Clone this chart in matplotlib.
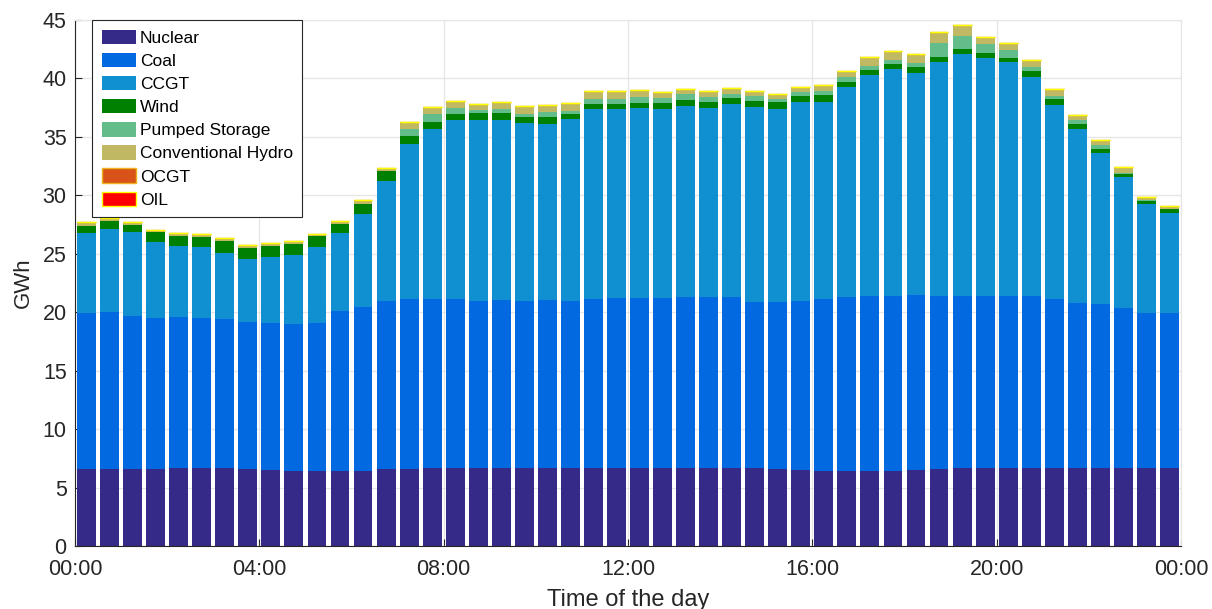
import numpy as np
import matplotlib.pyplot as plt

plt.rcParams["font.family"] = ["Liberation Sans", "DejaVu Sans"]

# half-hourly generation mix (GWh per settlement period)
nuclear = [6.60, 6.60, 6.60, 6.60, 6.67, 6.67, 6.67, 6.60, 6.53, 6.45, 6.45, 6.43,
           6.45, 6.60, 6.60, 6.67, 6.67, 6.67, 6.67, 6.67, 6.67, 6.67, 6.67, 6.67,
           6.67, 6.67, 6.67, 6.67, 6.67, 6.67, 6.60, 6.53, 6.45, 6.45, 6.45, 6.45,
           6.53, 6.60, 6.67, 6.67, 6.67, 6.67, 6.67, 6.67, 6.67, 6.67, 6.67, 6.67]
coal = [13.30, 13.40, 13.10, 12.95, 12.93, 12.88, 12.78, 12.60, 12.57, 12.55, 12.65, 13.72,
        14.00, 14.35, 14.55, 14.48, 14.43, 14.33, 14.38, 14.33, 14.38, 14.33, 14.48, 14.53,
        14.53, 14.53, 14.63, 14.63, 14.63, 14.18, 14.25, 14.42, 14.65, 14.85, 14.90, 14.95,
        14.92, 14.80, 14.73, 14.73, 14.73, 14.73, 14.48, 14.13, 14.03, 13.73, 13.23, 13.23]
ccgt = [6.84, 7.08, 7.16, 6.45, 6.03, 6.02, 5.61, 5.35, 5.59, 5.86, 6.47, 6.62,
        7.92, 10.29, 13.25, 14.57, 15.34, 15.44, 15.42, 15.15, 15.04, 15.52, 16.21, 16.21,
        16.25, 16.23, 16.33, 16.16, 16.50, 16.72, 16.58, 17.05, 16.90, 17.93, 18.94, 19.40,
        19.04, 19.97, 20.69, 20.31, 19.97, 18.71, 16.62, 14.91, 12.90, 11.14, 9.39, 8.59]
wind = [0.60, 0.69, 0.62, 0.83, 0.91, 0.89, 1.06, 0.91, 1.00, 0.97, 0.92, 0.80,
        0.91, 0.83, 0.69, 0.54, 0.49, 0.57, 0.60, 0.55, 0.61, 0.41, 0.46, 0.41,
        0.45, 0.46, 0.57, 0.54, 0.49, 0.49, 0.54, 0.49, 0.57, 0.48, 0.45, 0.46,
        0.48, 0.49, 0.45, 0.49, 0.40, 0.52, 0.49, 0.38, 0.34, 0.29, 0.25, 0.31]
pumped = [0.00, 0.00, 0.00, 0.00, 0.00, 0.00, 0.00, 0.00, 0.00, 0.00, 0.00, 0.00,
          0.00, 0.00, 0.57, 0.69, 0.51, 0.29, 0.29, 0.28, 0.43, 0.28, 0.43, 0.43,
          0.52, 0.45, 0.43, 0.40, 0.40, 0.43, 0.29, 0.37, 0.34, 0.43, 0.37, 0.34,
          0.37, 1.20, 1.12, 0.74, 0.66, 0.34, 0.25, 0.34, 0.37, 0.11, 0.06, 0.03]
hydro = [0.34, 0.31, 0.26, 0.23, 0.26, 0.22, 0.23, 0.29, 0.23, 0.23, 0.22, 0.23,
         0.29, 0.26, 0.58, 0.58, 0.63, 0.54, 0.63, 0.63, 0.57, 0.66, 0.72, 0.72,
         0.60, 0.49, 0.48, 0.51, 0.48, 0.42, 0.40, 0.40, 0.49, 0.52, 0.69, 0.71,
         0.72, 0.94, 0.94, 0.60, 0.63, 0.63, 0.58, 0.48, 0.46, 0.49, 0.29, 0.26]
ocgt = [0.0] * 48
oil = [0.0] * 48

labels = ["Nuclear", "Coal", "CCGT", "Wind", "Pumped Storage",
          "Conventional Hydro", "OCGT", "OIL"]
colors = ["#352a87", "#0369e0", "#108fd1", "#008000", "#62bd8a",
          "#c1b863", "#d95319", "#ff0000"]
edges = ["none", "none", "none", "none", "none", "none", "#edb120", "#ffff00"]

tick_hours = [0, 4, 8, 12, 16, 20, 24]
tick_labels = ["00:00", "04:00", "08:00", "12:00", "16:00", "20:00", "00:00"]

hours = np.arange(48) * 0.5 + 0.25

fig = plt.figure(figsize=(12.12, 6.09), dpi=100)
ax = fig.add_axes([0.0619, 0.1034, 0.9125, 0.8637])

series = [nuclear, coal, ccgt, wind, pumped, hydro, ocgt, oil]
bottom = np.zeros(48)
for vals, lab, col, ec in zip(series, labels, colors, edges):
    vals = np.array(vals)
    lw = 1.0 if ec != "none" else 0
    ax.bar(hours, vals, width=0.41, bottom=bottom, color=col, edgecolor=ec,
           linewidth=lw, label=lab, zorder=2)
    bottom += vals

ax.set_xlim(0, 24)
ax.set_ylim(0, 45)
ax.set_xticks(tick_hours)
ax.set_xticklabels(tick_labels)
ax.set_yticks(range(0, 46, 5))
ax.tick_params(axis="both", labelsize=15.5, direction="in", length=5,
               color="#262626", labelcolor="#262626")
ax.tick_params(axis="x", pad=9)
ax.tick_params(axis="y", pad=6)
ax.grid(True, color="#e6e6e6", linewidth=1, zorder=0)
ax.set_axisbelow(True)
for s in ["left", "bottom"]:
    ax.spines[s].set_color("#262626")
for s in ["top", "right"]:
    ax.spines[s].set_color("#e6e6e6")

ax.set_xlabel("Time of the day", fontsize=17, color="#262626", labelpad=7)
ax.set_ylabel("GWh", fontsize=16, color="#262626", labelpad=6)

leg = ax.legend(loc="upper left", bbox_to_anchor=(0.0154, 1.0), borderaxespad=0,
                fontsize=12.5, fancybox=False, edgecolor="#262626", framealpha=1,
                handlelength=2.0, handleheight=0.9, handletextpad=0.2,
                labelspacing=0.4, borderpad=0.55)
leg.get_frame().set_linewidth(0.8)

fig.savefig("out.png", dpi=100)
